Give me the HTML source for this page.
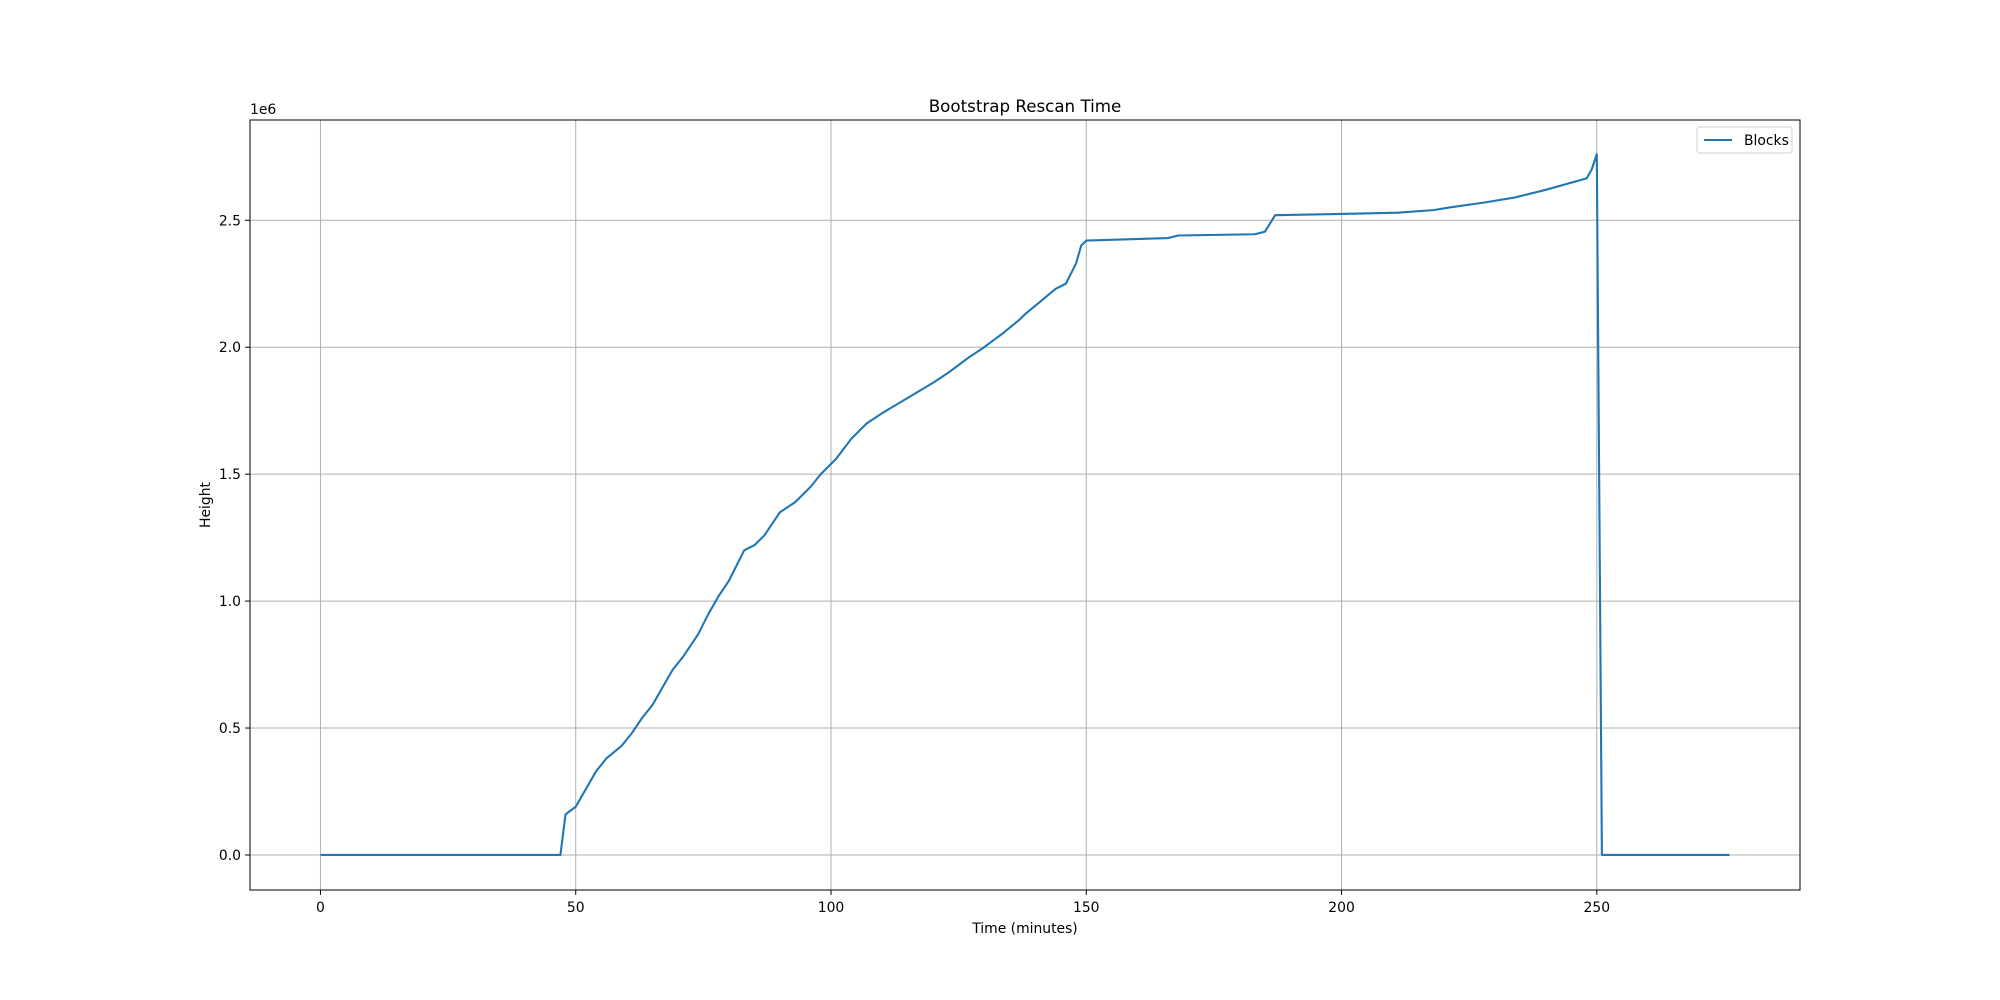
<!DOCTYPE html>
<html><head><meta charset="utf-8"><style>
html,body{margin:0;padding:0;background:#fff;}
svg{display:block;font-family:"DejaVu Sans","Liberation Sans",sans-serif;}
</style></head><body>
<svg id="chart" width="2000" height="1000" viewBox="0 0 2000 1000"></svg>
<script>
const xTicks=[0,50,100,150,200,250];
const yTicks=[0,0.5,1.0,1.5,2.0,2.5];
const yTickLabels=["0.0","0.5","1.0","1.5","2.0","2.5"];
const times=[0,47,48,50,52,54,56,59,61,63,65,67,69,71,74,76,78,80,82,83,85,87,89,90,93,96,98,101,104,107,110,115,120,123,127,130,134,137,138,141,144,146,148,149,150,166,168,183,185,187,200,211,218,221,228,234,240,248,249,250,251,276];
const heights=[0,0,0.16,0.19,0.26,0.33,0.38,0.43,0.48,0.54,0.59,0.66,0.73,0.78,0.87,0.95,1.02,1.08,1.16,1.20,1.22,1.26,1.32,1.35,1.39,1.45,1.50,1.56,1.64,1.70,1.74,1.80,1.86,1.90,1.96,2.00,2.06,2.11,2.13,2.18,2.23,2.25,2.33,2.40,2.42,2.43,2.44,2.445,2.455,2.52,2.525,2.53,2.54,2.55,2.57,2.59,2.62,2.665,2.70,2.76,0,0];

const L=250,R=1800,T=120,B=890;
const xmin=-13.8,xmax=289.8,ymin=-0.138,ymax=2.895;
const xs=v=>L+(v-xmin)/(xmax-xmin)*(R-L);
const ys=v=>B-(v-ymin)/(ymax-ymin)*(B-T);
const svg=document.getElementById('chart');
const NS='http://www.w3.org/2000/svg';
function mk(tag,attrs,parent){const e=document.createElementNS(NS,tag);for(const k in attrs)e.setAttribute(k,attrs[k]);(parent||svg).appendChild(e);return e;}

const grid=mk('g',{});


xTicks.forEach(t=>{const x=xs(t);
 const g=mk('line',{x1:x,x2:x,y1:T,y2:B,stroke:'#b0b0b0','stroke-width':1},grid);
 
 
 const tk=mk('line',{x1:x,x2:x,y1:B,y2:B+4.9,stroke:'#000','stroke-width':1});
 
 
 const tx=mk('text',{x:x,y:B+22,'text-anchor':'middle','font-size':13.9});
 tx.textContent=t;
 
 
});
yTicks.forEach((t,i)=>{const y=ys(t);
 const g=mk('line',{x1:L,x2:R,y1:y,y2:y,stroke:'#b0b0b0','stroke-width':1},grid);
 
 
 const tk=mk('line',{x1:L-4.9,x2:L,y1:y,y2:y,stroke:'#000','stroke-width':1});
 
 
 const tx=mk('text',{x:L-9,y:y+5,'text-anchor':'end','font-size':13.9});
 tx.textContent=yTickLabels[i];
 
 
});
const pts=times.map((t,i)=>xs(t).toFixed(2)+','+ys(heights[i]).toFixed(2)).join(' ');
const line=mk('polyline',{points:pts,fill:'none',stroke:'#1f77b4','stroke-width':2.1,'stroke-linejoin':'round'});


const frame=mk('rect',{x:L,y:T,width:R-L,height:B-T,fill:'none',stroke:'#000','stroke-width':1});


const off=mk('text',{x:L,y:T-6,'font-size':13.9});off.textContent='1e6';


const title=mk('text',{x:(L+R)/2,y:T-8,'text-anchor':'middle','font-size':16.7});title.textContent='Bootstrap Rescan Time';


const xl=mk('text',{x:(L+R)/2,y:B+43,'text-anchor':'middle','font-size':13.9});xl.textContent='Time (minutes)';


const yl=mk('text',{x:0,y:0,'text-anchor':'middle','font-size':13.9,transform:'translate(210,'+((T+B)/2)+') rotate(-90)'});yl.textContent='Height';


const lg=mk('g',{});


mk('rect',{x:1697,y:127,width:95,height:26,rx:3,fill:'#fff',stroke:'#d0d0d0','stroke-width':1},lg);
mk('line',{x1:1704,x2:1732,y1:140,y2:140,stroke:'#1f77b4','stroke-width':2.1},lg);
const lt=mk('text',{x:1744,y:145,'font-size':13.9},lg);lt.textContent='Blocks';


</script>
</body></html>
